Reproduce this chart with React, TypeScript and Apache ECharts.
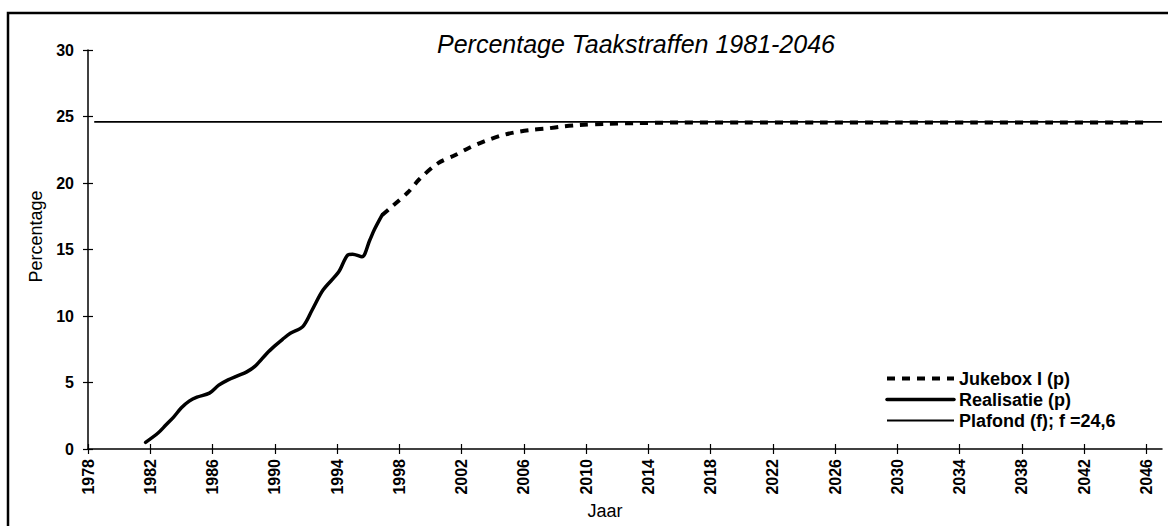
import React, { useEffect, useRef } from "react";
import * as echarts from "echarts";

const FONT = "'Liberation Sans', Arial, sans-serif";

const tickYears = [1978, 1982, 1986, 1990, 1994, 1998, 2002, 2006, 2010, 2014, 2018, 2022, 2026, 2030, 2034, 2038, 2042, 2046];

const realisatieYears = [1981.7, 1982.5, 1983.0, 1983.5, 1984.0, 1984.5, 1985.0, 1985.8, 1986.4, 1987.0, 1987.6, 1988.2, 1988.8, 1989.5, 1990.0, 1990.5, 1991.0, 1991.8, 1992.4, 1993.1, 1994.1, 1994.7, 1995.0, 1995.6, 1996.1, 1996.4, 1996.9];
const realisatieValues = [0.5, 1.2, 1.8, 2.4, 3.1, 3.6, 3.9, 4.2, 4.8, 5.2, 5.5, 5.8, 6.3, 7.2, 7.75, 8.25, 8.7, 9.2, 10.45, 11.95, 13.3, 14.6, 14.65, 14.45, 15.7, 16.5, 17.6];

const jukeboxYears = [1996.9, 1997.5, 1998.6, 1999.3, 2000.5, 2001.6, 2002.5, 2003.5, 2004.5, 2005.4, 2006.5, 2007.5, 2008.5, 2009.5, 2011.3, 2013.3, 2016, 2020, 2025, 2030, 2035, 2040, 2046];
const jukeboxValues = [17.6, 18.2, 19.35, 20.3, 21.5, 22.1, 22.65, 23.15, 23.55, 23.8, 24.0, 24.1, 24.25, 24.35, 24.45, 24.5, 24.55, 24.55, 24.55, 24.55, 24.55, 24.55, 24.55];

const plafondYears = [1978.4, 2047];
const plafondValues = [24.6, 24.6];

const seriesNames = ["Jukebox I (p)", "Realisatie (p)", "Plafond (f); f =24,6"];

const zip = (xs: number[], ys: number[]) => xs.map((x, i) => [x, ys[i]]);

export default function App() {
  const ref = useRef<HTMLDivElement>(null);
  useEffect(() => {
    if (!ref.current) return;
    const chart = echarts.init(ref.current, null, { renderer: "svg" });
    const axisLabelBase = { color: "#000", fontFamily: FONT, fontWeight: "bold" as const, fontSize: 16 };
    const hiddenSymbol = { color: "transparent", borderColor: "transparent", borderWidth: 0, opacity: 0 };
    const legendLineStyles = [
      { color: "#000", width: 4, type: [8, 7] },
      { color: "#000", width: 3.5, type: "solid" },
      { color: "#000", width: 1.8, type: "solid" },
    ];
    chart.setOption({
      animation: false,
      backgroundColor: "#fff",
      textStyle: { fontFamily: FONT, color: "#000" },
      title: {
        text: "Percentage Taakstraffen 1981-2046",
        left: 432,
        top: 26,
        textStyle: { fontFamily: FONT, fontStyle: "italic", fontWeight: "normal", fontSize: 25, color: "#000" },
      },
      legend: {
        left: 880,
        top: 364,
        orient: "vertical",
        itemWidth: 67,
        itemHeight: 14,
        itemGap: 2,
        data: seriesNames.map((name, i) => ({ name, itemStyle: hiddenSymbol, lineStyle: legendLineStyles[i] })),
        textStyle: { fontFamily: FONT, fontSize: 18, fontWeight: "bold", color: "#000", lineHeight: 19 },
      },
      grid: { left: 88, right: 6, top: 50, bottom: 77, containLabel: false },
      graphic: [
        {
          type: "rect",
          shape: { x: 8, y: 13, width: 1200, height: 560 },
          style: { fill: "none", stroke: "#000", lineWidth: 2.5 },
          silent: true,
        },
      ],
      xAxis: [
        {
          type: "value",
          min: 1978,
          max: 2047,
          name: "Jaar",
          nameLocation: "middle",
          nameGap: 34,
          nameTextStyle: { fontFamily: FONT, fontSize: 18, color: "#000", padding: [0, 40, 0, 0] },
          axisLine: { show: true, lineStyle: { color: "#000", width: 1.5 } },
          axisTick: { show: true, inside: false, length: 5, customValues: tickYears, lineStyle: { color: "#000", width: 1.2 } },
          axisLabel: {
            ...axisLabelBase,
            rotate: 90,
            margin: 10,
            padding: [14, 0, 0, 0],
            customValues: tickYears,
            formatter: (v: number) => String(v),
          },
          splitLine: { show: false },
        },
        {
          type: "value",
          min: 1978,
          max: 2047,
          position: "bottom",
          axisLine: { show: false },
          axisTick: { show: true, inside: true, length: 5, customValues: tickYears, lineStyle: { color: "#000", width: 1.2 } },
          axisLabel: { show: false },
          splitLine: { show: false },
        },
      ],
      yAxis: [
        {
          type: "value",
          min: 0,
          max: 30,
          interval: 5,
          name: "Percentage",
          nameLocation: "middle",
          nameGap: 32,
          nameTextStyle: { fontFamily: FONT, fontSize: 18, color: "#000", padding: [0, 0, 0, 26] },
          axisLine: { show: true, lineStyle: { color: "#000", width: 1.5 } },
          axisTick: { show: true, inside: false, length: 5, lineStyle: { color: "#000", width: 1.2 } },
          axisLabel: { ...axisLabelBase, margin: 14 },
          splitLine: { show: false },
        },
        {
          type: "value",
          min: 0,
          max: 30,
          interval: 5,
          position: "left",
          axisLine: { show: false },
          axisTick: { show: true, inside: true, length: 5, lineStyle: { color: "#000", width: 1.2 } },
          axisLabel: { show: false },
          splitLine: { show: false },
        },
      ],
      series: [
        {
          name: seriesNames[0],
          type: "line",
          data: zip(jukeboxYears, jukeboxValues),
          showSymbol: false,
          symbol: "none",
          smooth: 0.3,
          lineStyle: { color: "#000", width: 4, type: [8, 7], cap: "butt" },
          itemStyle: { color: "#000" },
          z: 3,
        },
        {
          name: seriesNames[1],
          type: "line",
          data: zip(realisatieYears, realisatieValues),
          showSymbol: false,
          symbol: "none",
          smooth: 0.3,
          lineStyle: { color: "#000", width: 3.5, cap: "round", join: "round" },
          itemStyle: { color: "#000" },
          z: 4,
        },
        {
          name: seriesNames[2],
          type: "line",
          data: zip(plafondYears, plafondValues),
          showSymbol: false,
          symbol: "none",
          lineStyle: { color: "#000", width: 1.8 },
          itemStyle: { color: "#000" },
          z: 2,
        },
      ],
    });
    return () => chart.dispose();
  }, []);
  return (
    <div
      ref={ref}
      style={{ position: "absolute", left: 0, top: 0, width: 1168, height: 526, background: "#fff" }}
    />
  );
}
